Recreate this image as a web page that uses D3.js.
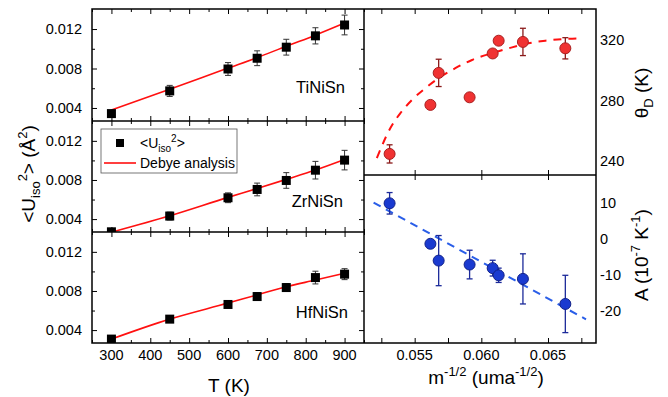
<!DOCTYPE html>
<html><head><meta charset="utf-8">
<script src="https://cdn.jsdelivr.net/npm/d3@7/dist/d3.min.js"></script>
<style>body{margin:0;background:#fff}svg{display:block;font-family:"Liberation Sans",Arial,sans-serif}</style>
</head><body><svg id="c" width="668" height="397"></svg>
<script>
// ---- data ----
const temps = [300, 450, 600, 675, 750, 825, 900];
const uTi = [0.00343, 0.00573, 0.00795, 0.00904, 0.01016, 0.01131, 0.01241];
const errTi = [0.0002, 0.00056, 0.00065, 0.00075, 0.0008, 0.00082, 0.001];
const fitTi = [0.0038, 0.0059, 0.00804, 0.0091, 0.01026, 0.01138, 0.0126];
const uZr = [0.0027, 0.00431, 0.00618, 0.00703, 0.00795, 0.009, 0.01003];
const errZr = [0.0002, 0.0004, 0.0005, 0.00065, 0.0008, 0.0009, 0.001];
const fitZr = [0.00266, 0.00434, 0.00622, 0.00712, 0.00806, 0.00902, 0.0101];
const uHf = [0.00308, 0.00512, 0.00662, 0.00743, 0.00835, 0.00937, 0.00972];
const errHf = [0.0002, 0.0002, 0.0003, 0.0004, 0.0004, 0.00065, 0.00056];
const fitHf = [0.00308, 0.00512, 0.00676, 0.0076, 0.00843, 0.00912, 0.00982];
const materials = ["TiNiSn", "ZrNiSn", "HfNiSn"];

const massX = [0.05312, 0.05618, 0.0568, 0.05912, 0.06085, 0.0613, 0.06312, 0.0663];
const thetaD = [244.9, 277.2, 298.3, 282.2, 311.1, 319.5, 318.7, 314.5];
const thetaErr = [6, 1, 9, 2, 2, 2, 9, 7];
const aVals = [10, -1.3, -6, -7.1, -8.1, -10.1, -11.1, -18.1];
const aErr = [3, 0.8, 7, 4, 2.2, 2, 7, 8];
// dashed fit curves
const thetaFitX = [0.05217, 0.05318, 0.05393, 0.0548, 0.0558, 0.0568, 0.05805, 0.0593, 0.0608, 0.06205, 0.0633, 0.0648, 0.0663, 0.06755];
const thetaFitY = [242.2, 262, 271.8, 280.5, 288.2, 294.8, 301.4, 306.8, 311.3, 314.5, 317.4, 319.5, 320.7, 321.1];
const aFitX = [0.05192, 0.06785];
const aFitY = [10.2, -22.4];

const tTicks = [300, 400, 500, 600, 700, 800, 900];
const uTicks = [0.004, 0.008, 0.012];
const mTicks = [0.055, 0.060, 0.065];
const thTicks = [240, 280, 320];
const aTicks = [10, 0, -10, -20];

// ---- layout ----
const svg = d3.select("#c");
const LX0 = 92, LX1 = 364, RX1 = 596;
const rows = [[9, 121], [121, 232], [232, 343]];
const x = d3.scaleLinear().domain([250, 950]).range([LX0, LX1]);
const xm = d3.scaleLinear().domain([0.0512, 0.0686]).range([LX1, RX1]);
const yTh = d3.scaleLinear().domain([231, 340.4]).range([175, 9]);
const yA = d3.scaleLinear().domain([-29, 17.9]).range([343, 175]);

function ticks(g, scale, vals, orient, len) {
  const ax = (orient === "bottom" ? d3.axisBottom : orient === "top" ? d3.axisTop : orient === "left" ? d3.axisLeft : d3.axisRight)(scale)
    .tickValues(vals).tickSizeInner(-len).tickSizeOuter(0).tickFormat("");
  g.call(ax);
  g.select(".domain").remove();
  g.selectAll("line").attr("stroke", "#000").attr("stroke-width", 1);
}

const series = [[uTi, errTi, fitTi], [uZr, errZr, fitZr], [uHf, errHf, fitHf]];
const labelY = [93, 207, 318];
const labelX = [345, 343, 348];

series.forEach((s, i) => {
  const [t, b] = rows[i];
  const y = d3.scaleLinear().domain([0.00268, 0.01403]).range([b, t]);
  const g = svg.append("g");
  const clipId = "clip" + i;
  svg.append("clipPath").attr("id", clipId).append("rect").attr("x", LX0).attr("y", t).attr("width", LX1 - LX0).attr("height", b - t);
  // ticks
  ticks(g.append("g").attr("transform", `translate(0,${b})`), x, tTicks, "bottom", 5);
  ticks(g.append("g").attr("transform", `translate(0,${t})`), x, tTicks, "top", 5);
  ticks(g.append("g").attr("transform", `translate(0,${b})`), x, d3.range(250, 951, 100), "bottom", 3);
  ticks(g.append("g").attr("transform", `translate(0,${t})`), x, d3.range(250, 951, 100), "top", 3);
  ticks(g.append("g").attr("transform", `translate(${LX0},0)`), y, uTicks, "left", 5);
  ticks(g.append("g").attr("transform", `translate(${LX1},0)`), y, uTicks, "right", 5);
  ticks(g.append("g").attr("transform", `translate(${LX0},0)`), y, [0.006, 0.010], "left", 3);
  ticks(g.append("g").attr("transform", `translate(${LX1},0)`), y, [0.006, 0.010], "right", 3);
  // tick labels
  g.selectAll("text.yl").data(uTicks).join("text").attr("x", 82).attr("y", d => y(d) + 5)
    .attr("text-anchor", "end").attr("font-size", 14.5).text(d => d3.format(".3f")(d));
  const pg = g.append("g").attr("clip-path", `url(#${clipId})`);
  // fit line
  pg.append("path").datum(temps.map((T, k) => [T, s[2][k]]))
    .attr("d", d3.line().x(d => x(d[0])).y(d => y(d[1])).curve(d3.curveMonotoneX))
    .attr("fill", "none").attr("stroke", "#ff1010").attr("stroke-width", 1.6);
  // error bars
  temps.forEach((T, k) => {
    const cx = x(T), y0 = y(s[0][k] - s[1][k]), y1 = y(s[0][k] + s[1][k]);
    pg.append("line").attr("x1", cx).attr("x2", cx).attr("y1", y0).attr("y2", y1).attr("stroke", "#333").attr("stroke-width", 1);
    [y0, y1].forEach(yy => pg.append("line").attr("x1", cx - 3).attr("x2", cx + 3).attr("y1", yy).attr("y2", yy).attr("stroke", "#333").attr("stroke-width", 1));
  });
  pg.selectAll("rect.pt").data(temps).join("rect").attr("x", (T) => x(T) - 4.5).attr("y", (T, k) => y(s[0][k]) - 4.5)
    .attr("width", 9).attr("height", 9).attr("fill", "#000");
  g.append("text").attr("x", labelX[i]).attr("y", labelY[i]).attr("text-anchor", "end").attr("font-size", 16.5).text(materials[i]);
});

// bottom tick labels
svg.selectAll("text.xl").data(tTicks).join("text").attr("x", d => x(d)).attr("y", 360)
  .attr("text-anchor", "middle").attr("font-size", 14.5).text(d => d);
svg.append("text").attr("x", 229).attr("y", 392).attr("text-anchor", "middle").attr("font-size", 19).text("T (K)");

// left y title
const yt = svg.append("text").attr("transform", "translate(35,174) rotate(-90)").attr("text-anchor", "middle").attr("font-size", 19);
yt.append("tspan").text("<U");
yt.append("tspan").attr("font-size", 13).attr("dy", 5).text("iso");
yt.append("tspan").attr("font-size", 13).attr("dy", -13).text("2");
yt.append("tspan").attr("dy", 8).text("> (Å");
yt.append("tspan").attr("font-size", 13).attr("dy", -8).text("2");
yt.append("tspan").attr("dy", 8).text(")");

// legend
const lg = svg.append("g");
lg.append("rect").attr("x", 101).attr("y", 129).attr("width", 136).attr("height", 44).attr("fill", "#fff").attr("stroke", "#555").attr("stroke-width", 0.8);
lg.append("rect").attr("x", 116).attr("y", 139).attr("width", 8).attr("height", 8).attr("fill", "#000");
const lt = lg.append("text").attr("x", 140).attr("y", 148).attr("font-size", 14);
lt.append("tspan").text("<U");
lt.append("tspan").attr("font-size", 10).attr("dy", 4).text("iso");
lt.append("tspan").attr("font-size", 10).attr("dy", -10).text("2");
lt.append("tspan").attr("dy", 6).text(">");
lg.append("line").attr("x1", 104).attr("x2", 136).attr("y1", 163).attr("y2", 163).attr("stroke", "#ff1010").attr("stroke-width", 1.6);
lg.append("text").attr("x", 140).attr("y", 168).attr("font-size", 14).text("Debye analysis");

// ---- right panels ----
const rg = svg.append("g");
const mMinor = [0.0525, 0.0575, 0.0625, 0.0675];
ticks(rg.append("g").attr("transform", "translate(0,9)"), xm, mTicks.concat(mMinor), "top", 5);
ticks(rg.append("g").attr("transform", "translate(0,175)"), xm, mTicks, "bottom", 5);
ticks(rg.append("g").attr("transform", "translate(0,175)"), xm, mTicks, "top", 5);
ticks(rg.append("g").attr("transform", "translate(0,343)"), xm, mTicks.concat(mMinor), "bottom", 5);
svg.selectAll("text.ml").data(mTicks).join("text").attr("x", d => xm(d)).attr("y", 360)
  .attr("text-anchor", "middle").attr("font-size", 14.5).text(d => d3.format(".3f")(d));
svg.selectAll("text.tl").data(thTicks).join("text").attr("x", 600).attr("y", d => yTh(d) + 5).attr("font-size", 14.5).text(d => d);
svg.selectAll("text.al").data(aTicks).join("text").attr("x", 600).attr("y", d => yA(d) + 5).attr("font-size", 14.5).text(d => d);

const mt = svg.append("text").attr("x", 486).attr("y", 384).attr("text-anchor", "middle").attr("font-size", 19);
mt.append("tspan").text("m");
mt.append("tspan").attr("font-size", 13).attr("dy", -8).text("-1/2");
mt.append("tspan").attr("dy", 8).text(" (uma");
mt.append("tspan").attr("font-size", 13).attr("dy", -8).text("-1/2");
mt.append("tspan").attr("dy", 8).text(")");

const tht = svg.append("text").attr("transform", "translate(648,93) rotate(-90)").attr("text-anchor", "middle").attr("font-size", 19);
tht.append("tspan").text("θ");
tht.append("tspan").attr("font-size", 13).attr("dy", 5).text("D");
tht.append("tspan").attr("dy", -5).text(" (K)");
const at = svg.append("text").attr("transform", "translate(648,255) rotate(-90)").attr("text-anchor", "middle").attr("font-size", 19);
at.append("tspan").text("A (10");
at.append("tspan").attr("font-size", 13).attr("dy", -8).text("-7");
at.append("tspan").attr("dy", 8).text(" K");
at.append("tspan").attr("font-size", 13).attr("dy", -8).text("-1");
at.append("tspan").attr("dy", 8).text(")");

// theta_D panel
svg.append("path").datum(thetaFitX.map((v, k) => [v, thetaFitY[k]]))
  .attr("d", d3.line().x(d => xm(d[0])).y(d => yTh(d[1])).curve(d3.curveMonotoneX))
  .attr("fill", "none").attr("stroke", "#ff1010").attr("stroke-width", 2).attr("stroke-dasharray", "8,7");
massX.forEach((mx, k) => {
  const cx = xm(mx), y0 = yTh(thetaD[k] - thetaErr[k]), y1 = yTh(thetaD[k] + thetaErr[k]);
  svg.append("line").attr("x1", cx).attr("x2", cx).attr("y1", y0).attr("y2", y1).attr("stroke", "#8b1a1a").attr("stroke-width", 1.3);
  [y0, y1].forEach(yy => svg.append("line").attr("x1", cx - 3).attr("x2", cx + 3).attr("y1", yy).attr("y2", yy).attr("stroke", "#8b1a1a").attr("stroke-width", 1.3));
});
svg.selectAll("circle.th").data(massX).join("circle").attr("cx", d => xm(d)).attr("cy", (d, k) => yTh(thetaD[k]))
  .attr("r", 5.5).attr("fill", "#f03232").attr("stroke", "#a82020").attr("stroke-width", 1);

// A panel
svg.append("path").datum(aFitX.map((v, k) => [v, aFitY[k]]))
  .attr("d", d3.line().x(d => xm(d[0])).y(d => yA(d[1])))
  .attr("fill", "none").attr("stroke", "#2a5ee8").attr("stroke-width", 2).attr("stroke-dasharray", "8,6");
massX.forEach((mx, k) => {
  const cx = xm(mx), y0 = yA(aVals[k] - aErr[k]), y1 = yA(aVals[k] + aErr[k]);
  svg.append("line").attr("x1", cx).attr("x2", cx).attr("y1", y0).attr("y2", y1).attr("stroke", "#1c2a9a").attr("stroke-width", 1.3);
  [y0, y1].forEach(yy => svg.append("line").attr("x1", cx - 3).attr("x2", cx + 3).attr("y1", yy).attr("y2", yy).attr("stroke", "#1c2a9a").attr("stroke-width", 1.3));
});
svg.selectAll("circle.a").data(massX).join("circle").attr("cx", d => xm(d)).attr("cy", (d, k) => yA(aVals[k]))
  .attr("r", 5.5).attr("fill", "#1a3ad0").attr("stroke", "#12228a").attr("stroke-width", 1);

// frames
const fr = svg.append("g").attr("fill", "none").attr("stroke", "#000").attr("stroke-width", 1.5);
fr.append("rect").attr("x", LX0).attr("y", 9).attr("width", RX1 - LX0).attr("height", 334);
fr.append("line").attr("x1", LX1).attr("x2", LX1).attr("y1", 9).attr("y2", 343);
fr.append("line").attr("x1", LX0).attr("x2", LX1).attr("y1", 121).attr("y2", 121);
fr.append("line").attr("x1", LX0).attr("x2", LX1).attr("y1", 232).attr("y2", 232);
fr.append("line").attr("x1", LX1).attr("x2", RX1).attr("y1", 175).attr("y2", 175);
</script></body></html>
